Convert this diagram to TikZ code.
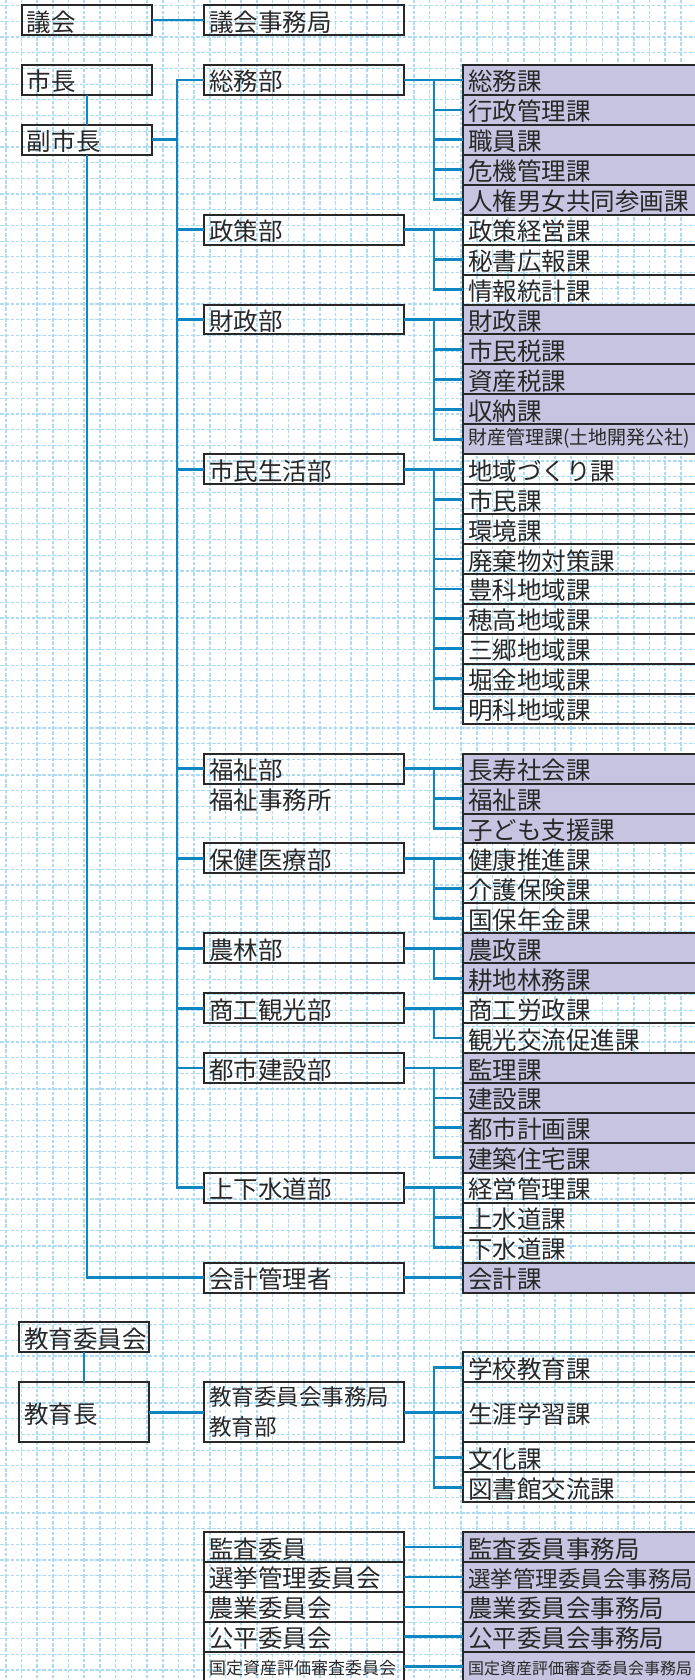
\documentclass[tikz,border=0pt]{standalone}
\usepackage{fontspec}
\setmainfont{Noto Sans CJK JP}
\usepackage{tikz}
\usetikzlibrary{positioning}

\definecolor{inkgray}{RGB}{40,40,40}
\definecolor{linkblue}{RGB}{14,134,193}
\definecolor{lilac}{RGB}{198,196,224}
\definecolor{gridblue}{RGB}{172,220,245}

\begin{document}
\begin{tikzpicture}[x=1pt, y=-1pt, node distance=0pt, text=inkgray,
                    font=\fontsize{24.5}{30}\selectfont]
  \tikzstyle{frame}=[draw=inkgray, line width=2pt, rectangle, outer sep=0pt,
                     inner xsep=5pt, inner ysep=0pt, minimum height=29.94pt, align=left]
  \tikzstyle{box}=[frame, text height=24pt, text depth=2pt]
  \tikzstyle{head}=[box, text width=120pt]
  \tikzstyle{bu}=[box, text width=190pt]
  \tikzstyle{ka}=[box, text width=240pt]
  \tikzstyle{kaf}=[ka, fill=lilac]
  \tikzstyle{link}=[draw=linkblue, line width=2.8pt]
  \tikzstyle{trunkline}=[link, line cap=rect]
  \tikzstyle{gridv}=[draw=gridblue, line width=1.6pt, dash pattern=on 3.5pt off 1.8pt]
  \tikzstyle{gridh}=[gridv, line width=1.2pt]

  \useasboundingbox (0,0) rectangle (695,1680);
  \clip (0,0) rectangle (695,1680);

  % grid paper
  \foreach \i in {0,...,44} \draw[gridv] (5.7+15.7*\i,0) -- (5.7+15.7*\i,1680);
  \foreach \j in {0,...,106} \draw[gridh] (0,5.7+15.7*\j) -- (695,5.7+15.7*\j);

  % sections (right column)
  \node[kaf] (somu1) at (463,65) [anchor=north west] {総務課};
  \node[kaf] (somu2)    [below=of somu1]    {行政管理課};
  \node[kaf] (somu3)    [below=of somu2]    {職員課};
  \node[kaf] (somu4)    [below=of somu3]    {危機管理課};
  \node[kaf] (somu5)    [below=of somu4]    {人権男女共同参画課};
  \node[ka]  (seisaku1) [below=of somu5]    {政策経営課};
  \node[ka]  (seisaku2) [below=of seisaku1] {秘書広報課};
  \node[ka]  (seisaku3) [below=of seisaku2] {情報統計課};
  \node[kaf] (zaisei1)  [below=of seisaku3] {財政課};
  \node[kaf] (zaisei2)  [below=of zaisei1]  {市民税課};
  \node[kaf] (zaisei3)  [below=of zaisei2]  {資産税課};
  \node[kaf] (zaisei4)  [below=of zaisei3]  {収納課};
  \node[kaf, font=\fontsize{19}{22}\selectfont, text height=14pt, text depth=3pt]
             (zaisei5)  [below=of zaisei4]  {財産管理課(土地開発公社)};
  \node[ka]  (shimin1)  [below=of zaisei5]  {地域づくり課};
  \node[ka]  (shimin2)  [below=of shimin1]  {市民課};
  \node[ka]  (shimin3)  [below=of shimin2]  {環境課};
  \node[ka]  (shimin4)  [below=of shimin3]  {廃棄物対策課};
  \node[ka]  (shimin5)  [below=of shimin4]  {豊科地域課};
  \node[ka]  (shimin6)  [below=of shimin5]  {穂高地域課};
  \node[ka]  (shimin7)  [below=of shimin6]  {三郷地域課};
  \node[ka]  (shimin8)  [below=of shimin7]  {堀金地域課};
  \node[ka]  (shimin9)  [below=of shimin8]  {明科地域課};
  \node[kaf] (fukushi1) [below=29.94pt of shimin9] {長寿社会課};
  \node[kaf] (fukushi2) [below=of fukushi1] {福祉課};
  \node[kaf] (fukushi3) [below=of fukushi2] {子ども支援課};
  \node[ka]  (hoken1)   [below=of fukushi3] {健康推進課};
  \node[ka]  (hoken2)   [below=of hoken1]   {介護保険課};
  \node[ka]  (hoken3)   [below=of hoken2]   {国保年金課};
  \node[kaf] (norin1)   [below=of hoken3]   {農政課};
  \node[kaf] (norin2)   [below=of norin1]   {耕地林務課};
  \node[ka]  (shoko1)   [below=of norin2]   {商工労政課};
  \node[ka]  (shoko2)   [below=of shoko1]   {観光交流促進課};
  \node[kaf] (toshi1)   [below=of shoko2]   {監理課};
  \node[kaf] (toshi2)   [below=of toshi1]   {建設課};
  \node[kaf] (toshi3)   [below=of toshi2]   {都市計画課};
  \node[kaf] (toshi4)   [below=of toshi3]   {建築住宅課};
  \node[ka]  (josui1)   [below=of toshi4]   {経営管理課};
  \node[ka]  (josui2)   [below=of josui1]   {上水道課};
  \node[ka]  (josui3)   [below=of josui2]   {下水道課};
  \node[kaf] (kaikei1)  [below=of josui3]   {会計課};
  \node[ka]  (kyoiku1)  [below=59.88pt of kaikei1] {学校教育課};
  \node[ka, minimum height=59.88pt] (kyoiku2) [below=of kyoiku1] {生涯学習課};
  \node[ka]  (kyoiku3)  [below=of kyoiku2]  {文化課};
  \node[ka]  (kyoiku4)  [below=of kyoiku3]  {図書館交流課};
  \node[kaf] (iin1)     [below=29.94pt of kyoiku4] {監査委員事務局};
  \node[kaf, font=\fontsize{22.5}{30}\selectfont] (iin2) [below=of iin1] {選挙管理委員会事務局};
  \node[kaf] (iin3)     [below=of iin2]     {農業委員会事務局};
  \node[kaf] (iin4)     [below=of iin3]     {公平委員会事務局};
  \node[kaf, font=\fontsize{16}{20}\selectfont, text height=17pt, text depth=2pt]
             (iin5)     [below=of iin4]     {国定資産評価審査委員会事務局};

  % departments (middle column)
  \node[bu] (somu)    [left=59pt of somu1]    {総務部};
  \node[bu] (seisaku) [left=59pt of seisaku1] {政策部};
  \node[bu] (zaisei)  [left=59pt of zaisei1]  {財政部};
  \node[bu] (shimin)  [left=59pt of shimin1]  {市民生活部};
  \node[bu] (fukushi) [left=59pt of fukushi1] {福祉部};
  \node[bu, draw=none] (fjimu) [below=of fukushi] {福祉事務所};
  \node[bu] (hoken)   [left=59pt of hoken1]   {保健医療部};
  \node[bu] (norin)   [left=59pt of norin1]   {農林部};
  \node[bu] (shoko)   [left=59pt of shoko1]   {商工観光部};
  \node[bu] (toshi)   [left=59pt of toshi1]   {都市建設部};
  \node[bu] (josui)   [left=59pt of josui1]   {上下水道部};
  \node[bu] (kaikei)  [left=59pt of kaikei1]  {会計管理者};
  \node[frame, text width=190pt, minimum height=59.88pt, font=\fontsize{22.5}{30}\selectfont]
            (kyoiku)  [left=59pt of kyoiku2]  {教育委員会事務局\\教育部};
  \node[bu] (kansa)   [left=59pt of iin1]     {監査委員};
  \node[bu] (senkyo)  [left=59pt of iin2]     {選挙管理委員会};
  \node[bu] (nogyo)   [left=59pt of iin3]     {農業委員会};
  \node[bu] (kohei)   [left=59pt of iin4]     {公平委員会};
  \node[bu, font=\fontsize{17}{20}\selectfont, text height=18pt, text depth=2pt]
            (hyoka)   [left=59pt of iin5]     {国定資産評価審査委員会};

  % heads (left column)
  \node[head] (mayor)  [left=52pt of somu]      {市長};
  \node[head] (vmayor) [below=29.94pt of mayor] {副市長};
  \node[head] (gikai)  [above=29.94pt of mayor] {議会};
  \node[bu]   (gjimu)  [right=52pt of gikai]    {議会事務局};
  \node[head, minimum height=59.88pt] (kyocho) [left=55pt of kyoiku] {教育長};
  \node[head] (kyoiin) [above=29.94pt of kyocho] {教育委員会};

  \node[coordinate] (trunk) [right=25pt of vmayor] {};
  \node[coordinate] (sub)   [left=29pt of somu1]   {};

  % connectors
  \path (gikai)  edge[link] (gjimu)
        (mayor)  edge[link] (vmayor)
        (vmayor) edge[link] (trunk)
        (kyoiin) edge[link] (kyocho)
        (kyocho) edge[link] (kyoiku);
  \draw[link] (vmayor) |- (kaikei);
  \draw[trunkline] (trunk |- somu) -- (trunk |- josui);
  \path (trunk |- somu)    edge[link] (somu)
        (trunk |- seisaku) edge[link] (seisaku)
        (trunk |- zaisei)  edge[link] (zaisei)
        (trunk |- shimin)  edge[link] (shimin)
        (trunk |- fukushi) edge[link] (fukushi)
        (trunk |- hoken)   edge[link] (hoken)
        (trunk |- norin)   edge[link] (norin)
        (trunk |- shoko)   edge[link] (shoko)
        (trunk |- toshi)   edge[link] (toshi)
        (trunk |- josui)   edge[link] (josui);

  \draw[trunkline] (sub |- somu1) -- (sub |- somu5);
  \path (somu) edge[link] (somu1)
        (sub |- somu2) edge[link] (somu2)
        (sub |- somu3) edge[link] (somu3)
        (sub |- somu4) edge[link] (somu4)
        (sub |- somu5) edge[link] (somu5);

  \draw[trunkline] (sub |- seisaku1) -- (sub |- seisaku3);
  \path (seisaku) edge[link] (seisaku1)
        (sub |- seisaku2) edge[link] (seisaku2)
        (sub |- seisaku3) edge[link] (seisaku3);

  \draw[trunkline] (sub |- zaisei1) -- (sub |- zaisei5);
  \path (zaisei) edge[link] (zaisei1)
        (sub |- zaisei2) edge[link] (zaisei2)
        (sub |- zaisei3) edge[link] (zaisei3)
        (sub |- zaisei4) edge[link] (zaisei4)
        (sub |- zaisei5) edge[link] (zaisei5);

  \draw[trunkline] (sub |- shimin1) -- (sub |- shimin9);
  \path (shimin) edge[link] (shimin1)
        (sub |- shimin2) edge[link] (shimin2)
        (sub |- shimin3) edge[link] (shimin3)
        (sub |- shimin4) edge[link] (shimin4)
        (sub |- shimin5) edge[link] (shimin5)
        (sub |- shimin6) edge[link] (shimin6)
        (sub |- shimin7) edge[link] (shimin7)
        (sub |- shimin8) edge[link] (shimin8)
        (sub |- shimin9) edge[link] (shimin9);

  \draw[trunkline] (sub |- fukushi1) -- (sub |- fukushi3);
  \path (fukushi) edge[link] (fukushi1)
        (sub |- fukushi2) edge[link] (fukushi2)
        (sub |- fukushi3) edge[link] (fukushi3);

  \draw[trunkline] (sub |- hoken1) -- (sub |- hoken3);
  \path (hoken) edge[link] (hoken1)
        (sub |- hoken2) edge[link] (hoken2)
        (sub |- hoken3) edge[link] (hoken3);

  \draw[trunkline] (sub |- norin1) -- (sub |- norin2);
  \path (norin) edge[link] (norin1)
        (sub |- norin2) edge[link] (norin2);

  \draw[trunkline] (sub |- shoko1) -- (sub |- shoko2);
  \path (shoko) edge[link] (shoko1)
        (sub |- shoko2) edge[link] (shoko2);

  \draw[trunkline] (sub |- toshi1) -- (sub |- toshi4);
  \path (toshi) edge[link] (toshi1)
        (sub |- toshi2) edge[link] (toshi2)
        (sub |- toshi3) edge[link] (toshi3)
        (sub |- toshi4) edge[link] (toshi4);

  \draw[trunkline] (sub |- josui1) -- (sub |- josui3);
  \path (josui) edge[link] (josui1)
        (sub |- josui2) edge[link] (josui2)
        (sub |- josui3) edge[link] (josui3);

  \path (kaikei) edge[link] (kaikei1);

  \draw[trunkline] (sub |- kyoiku1) -- (sub |- kyoiku4);
  \path (kyoiku) edge[link] (kyoiku2)
        (sub |- kyoiku1) edge[link] (kyoiku1)
        (sub |- kyoiku3) edge[link] (kyoiku3)
        (sub |- kyoiku4) edge[link] (kyoiku4);

  \path (kansa)  edge[link] (iin1)
        (senkyo) edge[link] (iin2)
        (nogyo)  edge[link] (iin3)
        (kohei)  edge[link] (iin4)
        (hyoka)  edge[link] (iin5);
\end{tikzpicture}
\end{document}
